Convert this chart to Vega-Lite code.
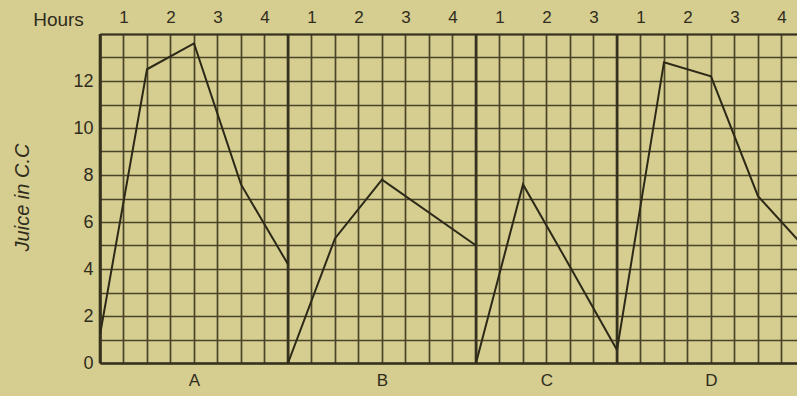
{
  "$schema": "https://vega.github.io/schema/vega-lite/v6.json",
  "width": 697,
  "height": 329,
  "autosize": {"type": "none"},
  "padding": {"left": 100, "top": 34, "right": 0, "bottom": 33},
  "background": "#d6cd90",
  "config": {
    "view": {"stroke": null},
    "font": "Liberation Sans",
    "axis": {
      "labelColor": "#2f2c1c",
      "titleColor": "#2f2c1c",
      "labelFont": "Liberation Sans",
      "titleFont": "Liberation Sans",
      "titleFontWeight": "normal"
    }
  },
  "datasets": {
    "juice": [
      {"panel": "A", "t": 0, "cc": 1.2},
      {"panel": "A", "t": 1, "cc": 12.5},
      {"panel": "A", "t": 2, "cc": 13.6},
      {"panel": "A", "t": 3, "cc": 7.6},
      {"panel": "A", "t": 4, "cc": 4.2},
      {"panel": "B", "t": 4, "cc": 0},
      {"panel": "B", "t": 5, "cc": 5.3},
      {"panel": "B", "t": 6, "cc": 7.8},
      {"panel": "B", "t": 8, "cc": 5.0},
      {"panel": "C", "t": 8, "cc": 0},
      {"panel": "C", "t": 9, "cc": 7.6},
      {"panel": "C", "t": 10, "cc": 4.1},
      {"panel": "C", "t": 11, "cc": 0.55},
      {"panel": "D", "t": 11, "cc": 0.55},
      {"panel": "D", "t": 12, "cc": 12.8},
      {"panel": "D", "t": 13, "cc": 12.2},
      {"panel": "D", "t": 14, "cc": 7.1},
      {"panel": "D", "t": 15, "cc": 4.9}
    ],
    "panels": [
      {"panel": "A", "start": 0},
      {"panel": "B", "start": 4},
      {"panel": "C", "start": 8},
      {"panel": "D", "start": 11}
    ]
  },
  "resolve": {"axis": {"x": "independent"}},
  "layer": [
    {
      "data": {"name": "panels"},
      "mark": {"type": "rule", "color": "#36321f", "strokeWidth": 2.6},
      "encoding": {
        "x": {
          "field": "start",
          "type": "quantitative",
          "scale": {"domain": [0, 14.83], "nice": false, "zero": false},
          "axis": {
            "orient": "bottom",
            "values": [2, 6, 9.5, 13],
            "labelExpr": "datum.value < 4 ? 'A' : datum.value < 8 ? 'B' : datum.value < 11 ? 'C' : 'D'",
            "ticks": false,
            "domain": true,
            "domainColor": "#36321f",
            "domainWidth": 2.4,
            "grid": false,
            "labelFontSize": 17,
            "labelPadding": 9,
            "title": null
          }
        }
      }
    },
    {
      "data": {"name": "juice"},
      "mark": {"type": "line", "color": "#2c2918", "strokeWidth": 2, "clip": true},
      "encoding": {
        "x": {
          "field": "t",
          "type": "quantitative",
          "scale": {"domain": [0, 14.83], "nice": false, "zero": false},
          "axis": {
            "orient": "top",
            "values": [0, 0.5, 1, 1.5, 2, 2.5, 3, 3.5, 4, 4.5, 5, 5.5, 6, 6.5, 7, 7.5, 8, 8.5, 9, 9.5, 10, 10.5, 11, 11.5, 12, 12.5, 13, 13.5, 14, 14.5],
            "labelExpr": "datum.value % 1 == 0.5 ? '' + (datum.value < 4 ? ceil(datum.value) : datum.value < 8 ? ceil(datum.value - 4) : datum.value < 11 ? ceil(datum.value - 8) : ceil(datum.value - 11)) : ''",
            "ticks": false,
            "domain": true,
            "domainColor": "#36321f",
            "domainWidth": 2.2,
            "grid": true,
            "gridColor": "#4a4529",
            "gridWidth": 1.7,
            "gridOpacity": 1,
            "labelFontSize": 17,
            "labelPadding": 8,
            "labelOverlap": false,
            "title": "Hours",
            "titleFontSize": 19,
            "titleAlign": "center",
            "titleBaseline": "alphabetic",
            "titleX": -42,
            "titleY": -9
          }
        },
        "y": {
          "field": "cc",
          "type": "quantitative",
          "scale": {"domain": [0, 14], "nice": false},
          "axis": {
            "values": [0, 1, 2, 3, 4, 5, 6, 7, 8, 9, 10, 11, 12, 13, 14],
            "labelExpr": "datum.value % 2 == 0 && datum.value <= 12 ? '' + datum.value : ''",
            "ticks": false,
            "domain": true,
            "domainColor": "#36321f",
            "domainWidth": 2.4,
            "grid": true,
            "gridColor": "#4a4529",
            "gridWidth": 1.7,
            "gridOpacity": 1,
            "labelFontSize": 18,
            "labelPadding": 7,
            "labelOverlap": false,
            "title": "Juice in C.C",
            "titleFontSize": 20,
            "titleFontStyle": "italic",
            "titleAngle": -90,
            "titleAlign": "center",
            "titleBaseline": "middle",
            "titleX": -78,
            "titleY": 163
          }
        },
        "detail": {"field": "panel"}
      }
    }
  ]
}
